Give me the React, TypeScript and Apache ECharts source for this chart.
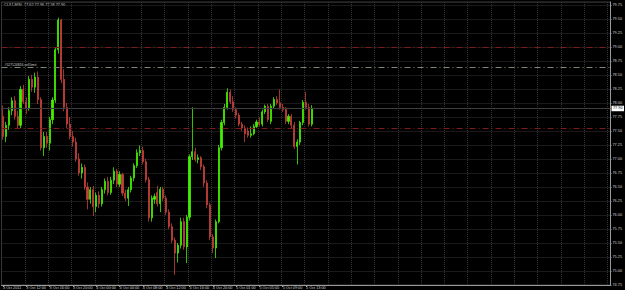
import React, { useEffect, useRef } from "react";
import * as echarts from "echarts";

// Time-axis tick labels (one every 8 half-hour bars)
const tickLabels = [
  "3 Oct 2011", "3 Oct 12:00", "3 Oct 16:00", "3 Oct 20:00",
  "4 Oct 00:00", "4 Oct 04:00", "4 Oct 08:00", "4 Oct 12:00",
  "4 Oct 16:00", "4 Oct 20:00", "5 Oct 01:00", "5 Oct 05:00",
  "5 Oct 09:00", "5 Oct 13:00",
];
const barsPerTick = 8;
const totalSlots = 209; // visible bar slots incl. empty right side

const opens = [
  77.76, 77.40, 77.60, 77.86, 78.04, 77.76, 77.60, 78.24, 78.02, 77.90,
  78.42, 78.28, 78.46, 78.06, 77.20, 77.40, 77.28, 77.70, 78.05, 78.95,
  79.48, 78.42, 77.92, 77.62, 77.40, 77.30, 77.00, 76.75, 76.85, 76.50,
  76.28, 76.45, 76.15, 76.35, 76.20, 76.45, 76.60, 76.40, 76.62, 76.78,
  76.55, 76.72, 76.39, 76.30, 76.45, 76.66, 76.88, 77.11, 77.15, 76.95,
  76.63, 75.95, 76.28, 76.40, 76.20, 76.46, 76.30, 76.05, 75.79, 75.55,
  75.32, 75.46, 75.88, 75.43, 75.96, 77.04, 77.13, 76.99, 77.02, 76.86,
  76.57, 76.18, 75.61, 75.41, 75.88, 77.20, 77.65, 77.92, 78.19, 78.02,
  77.88, 77.78, 77.62, 77.55, 77.50, 77.42, 77.45, 77.58, 77.66, 77.62,
  77.84, 77.94, 77.67, 77.94, 78.06, 78.00, 77.92, 77.88, 77.67, 77.76,
  77.60, 77.22, 77.30, 77.65, 78.01, 77.92, 77.62,
];
const highs = [
  77.95, 77.66, 77.92, 78.10, 78.12, 77.86, 78.30, 78.32, 78.10, 78.48,
  78.50, 78.54, 78.56, 78.10, 77.48, 77.48, 77.75, 78.10, 78.98, 79.52,
  79.50, 78.60, 78.00, 77.75, 77.50, 77.38, 77.10, 76.92, 76.90, 76.58,
  76.50, 76.52, 76.40, 76.42, 76.50, 76.65, 76.68, 76.68, 76.85, 76.82,
  76.78, 76.75, 76.45, 76.50, 76.70, 76.92, 77.17, 77.24, 77.22, 77.00,
  76.68, 76.35, 76.38, 76.52, 76.50, 76.50, 76.35, 76.10, 75.85, 75.60,
  75.50, 75.95, 75.95, 76.00, 77.08, 77.92, 77.20, 77.08, 77.05, 76.90,
  76.62, 76.22, 75.66, 75.92, 77.25, 77.70, 77.98, 78.26, 78.24, 78.12,
  77.92, 77.82, 77.66, 77.60, 77.56, 77.58, 77.62, 77.70, 77.74, 77.88,
  77.97, 77.98, 77.98, 78.10, 78.12, 78.24, 77.98, 77.92, 77.80, 77.80,
  77.66, 77.35, 77.68, 78.05, 78.20, 77.98, 77.96,
];
const lows = [
  77.34, 77.30, 77.52, 77.78, 77.70, 77.55, 77.55, 77.98, 77.80, 77.86,
  78.20, 78.18, 77.98, 77.15, 77.05, 77.20, 77.15, 77.62, 78.00, 78.88,
  78.35, 77.85, 77.55, 77.35, 77.22, 76.95, 76.70, 76.65, 76.45, 76.10,
  76.20, 75.98, 76.05, 76.12, 76.15, 76.38, 76.35, 76.36, 76.55, 76.50,
  76.50, 76.34, 76.25, 76.16, 76.40, 76.60, 76.84, 77.05, 76.90, 76.58,
  75.88, 75.88, 76.20, 76.15, 76.05, 76.25, 76.00, 75.75, 75.50, 74.93,
  75.15, 75.40, 75.38, 75.14, 75.90, 76.98, 76.95, 76.92, 76.80, 76.50,
  76.12, 75.55, 75.32, 75.23, 75.85, 77.15, 77.60, 77.88, 77.98, 77.84,
  77.72, 77.58, 77.50, 77.30, 77.38, 77.38, 77.42, 77.55, 77.58, 77.58,
  77.80, 77.66, 77.62, 77.90, 77.96, 77.88, 77.84, 77.62, 77.62, 77.55,
  77.18, 76.90, 77.25, 77.60, 77.88, 77.58, 77.58,
];
const closes = [
  77.40, 77.60, 77.86, 78.04, 77.76, 77.60, 78.24, 78.02, 77.90, 78.42,
  78.28, 78.46, 78.06, 77.20, 77.40, 77.28, 77.70, 78.05, 78.95, 79.48,
  78.42, 77.92, 77.62, 77.40, 77.30, 77.00, 76.75, 76.85, 76.50, 76.28,
  76.45, 76.15, 76.35, 76.20, 76.45, 76.60, 76.40, 76.62, 76.78, 76.55,
  76.72, 76.39, 76.30, 76.45, 76.66, 76.88, 77.11, 77.15, 76.95, 76.63,
  75.95, 76.30, 76.33, 76.20, 76.46, 76.30, 76.05, 75.79, 75.55, 75.32,
  75.46, 75.88, 75.43, 75.96, 77.04, 77.13, 76.99, 77.02, 76.86, 76.57,
  76.18, 75.61, 75.41, 75.88, 77.20, 77.65, 77.92, 78.19, 78.02, 77.88,
  77.78, 77.62, 77.55, 77.45, 77.42, 77.45, 77.58, 77.66, 77.62, 77.84,
  77.94, 77.70, 77.94, 78.06, 78.00, 77.92, 77.88, 77.67, 77.76, 77.60,
  77.22, 77.30, 77.65, 78.01, 77.92, 77.62, 77.90,
];

const headerText = "CLX1,M30  77.62 77.96 77.58 77.90";
const stopLevel = 79.0;
const orderLevel = 78.63;
const orderLabel = "#527124816 sell limit";
const targetLevel = 77.54;
const bidLevel = 77.9;

const priceMin = 74.75;
const priceMax = 79.8;
const priceStep = 0.25;

const FONT = "Liberation Sans, DejaVu Sans, sans-serif";

export default function App() {
  const ref = useRef<HTMLDivElement>(null);
  useEffect(() => {
    if (!ref.current) return;
    const chart = echarts.init(ref.current, null, { renderer: "svg" });
    const categories = Array.from({ length: totalSlots }, (_, i) => String(i));
    const candles = opens.map((o, i) => [o, closes[i], lows[i], highs[i]]);
    const showTick = (index: number) =>
      index % barsPerTick === 0 && index / barsPerTick < tickLabels.length;
    const dashDot = [6, 3, 1, 3];
    chart.setOption({
      animation: false,
      backgroundColor: "#000000",
      textStyle: { fontFamily: FONT },
      grid: {
        left: 0,
        right: 13,
        top: 2,
        bottom: 5,
        show: true,
        borderColor: "#3a3a3a",
        borderWidth: 1,
      },
      graphic: [
        {
          type: "text",
          left: 4,
          top: 3,
          style: {
            text: headerText,
            fill: "#d0d0d0",
            font: `3.8px ${FONT}`,
          },
        },
      ],
      xAxis: {
        type: "category",
        data: categories,
        boundaryGap: true,
        axisLine: { show: true, lineStyle: { color: "#9a9a9a", width: 1 } },
        axisTick: {
          show: true,
          interval: showTick,
          alignWithLabel: true,
          length: 2,
          lineStyle: { color: "#9a9a9a" },
        },
        axisLabel: {
          interval: showTick,
          formatter: (_v: string, index: number) =>
            tickLabels[index / barsPerTick] ?? "",
          align: "left",
          color: "#d0d0d0",
          fontSize: 3.8,
          margin: 1,
          fontFamily: FONT,
        },
        splitLine: {
          show: true,
          interval: (index: number) => index % barsPerTick === 0,
          lineStyle: { color: "#333333", type: "dotted", width: 1 },
        },
      },
      yAxis: {
        type: "value",
        position: "right",
        min: priceMin,
        max: priceMax,
        interval: priceStep,
        axisLine: { show: true, lineStyle: { color: "#9a9a9a", width: 1 } },
        axisTick: { show: true, length: 1, lineStyle: { color: "#9a9a9a" } },
        axisLabel: {
          color: "#d0d0d0",
          fontSize: 3.8,
          margin: 2,
          fontFamily: FONT,
          showMaxLabel: false,
          formatter: (v: number) => v.toFixed(2),
        },
        splitLine: {
          show: true,
          lineStyle: { color: "#333333", type: "dotted", width: 1 },
        },
      },
      series: [
        {
          type: "candlestick",
          data: candles,
          barWidth: 1.6,
          itemStyle: {
            color: "#44f000",
            color0: "#c8403a",
            borderColor: "#44f000",
            borderColor0: "#c8403a",
            borderWidth: 0.8,
          },
          markLine: {
            silent: true,
            symbol: "none",
            animation: false,
            data: [
              {
                yAxis: stopLevel,
                lineStyle: { color: "#7c1c1c", type: dashDot, width: 1 },
                label: { show: false },
              },
              {
                yAxis: orderLevel,
                lineStyle: { color: "#7a8776", type: dashDot, width: 1 },
                label: {
                  show: true,
                  position: "insideStartTop",
                  formatter: orderLabel,
                  color: "#d0d0d0",
                  fontSize: 3.4,
                  fontFamily: FONT,
                  distance: [3, 1],
                },
              },
              {
                yAxis: targetLevel,
                lineStyle: { color: "#7c1c1c", type: dashDot, width: 1 },
                label: { show: false },
              },
              {
                yAxis: bidLevel,
                lineStyle: { color: "#3e3e3e", type: "solid", width: 1 },
                label: {
                  show: true,
                  position: "end",
                  formatter: bidLevel.toFixed(2),
                  color: "#000000",
                  backgroundColor: "#ffffff",
                  padding: [1, 1.5, 0.5, 1.5],
                  fontSize: 3.8,
                  fontFamily: FONT,
                  distance: 1,
                },
              },
            ],
          },
        },
      ],
    });
    return () => chart.dispose();
  }, []);
  return (
    <div
      ref={ref}
      style={{ position: "fixed", left: 0, top: 0, width: 625, height: 290 }}
    />
  );
}
